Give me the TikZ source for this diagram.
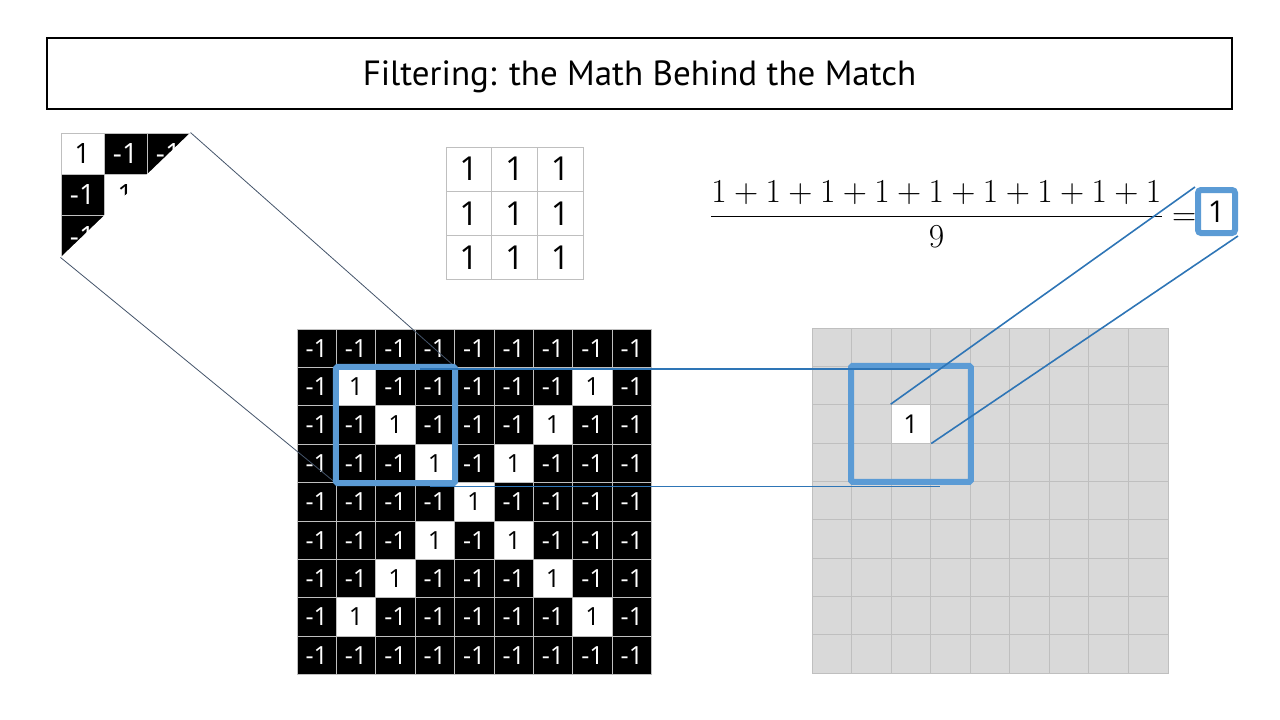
\RequirePackage{fix-cm}
\documentclass[tikz,border=0pt]{standalone}
\usepackage{amsmath}
\usepackage{fontspec}
\setmainfont{Open Sans}
\newfontfamily\titlefont{PT Sans}
\usepackage{tikz}
\usetikzlibrary{positioning, calc}
\definecolor{winblue}{RGB}{91,155,213}
\definecolor{linkblue}{RGB}{46,117,182}
\definecolor{cellgray}{RGB}{191,191,191}
\definecolor{mapgray}{RGB}{217,217,217}
\definecolor{zoomline}{RGB}{68,84,106}
\newcommand\fsz[1]{\fontsize{#1}{#1}\selectfont}

\begin{document}
\begin{tikzpicture}[x=1pt, y=-1pt,
    cell/.style={draw=cellgray, line width=1pt, inner sep=0pt, minimum width=39.4pt, minimum height=38.4pt, font=\fsz{25}},
    onecell/.style={cell, fill=white, text=black},
    minuscell/.style={cell, fill=black, text=white},
    mapcell/.style={cell, fill=mapgray, minimum width=39.56pt, minimum height=38.33pt},
    kerncell/.style={cell, fill=white, minimum width=45.7pt, minimum height=44.3pt, font=\fsz{33}},
    zoomcell/.style={cell, minimum width=43pt, minimum height=41.3pt, font=\fsz{28}},
    window/.style={draw=winblue, line width=6pt, rounded corners=1.5pt},
    link/.style={linkblue, line width=1.6pt}]
    \useasboundingbox (0,0) rectangle (1280,720);

    \node[draw, line width=2.5pt, minimum width=1185pt, minimum height=71pt, text depth=0pt, font=\titlefont\fsz{35}] (title) at (639.5,73.5) {Filtering: the Math Behind the Match};

    % magnified corner of the window, partly hidden
    \foreach \r in {0,1,2}
        \foreach \c in {0,1,2} {
            \ifnum\r=\c
                \node[zoomcell, fill=white] (zm-\r-\c) at (82.5+43*\c, 153.7+41.3*\r) {1};
            \else
                \node[zoomcell, fill=black, text=white] (zm-\r-\c) at (82.5+43*\c, 153.7+41.3*\r) {-1};
            \fi
        }

    % kernel
    \foreach \r in {0,1,2}
        \foreach \c in {0,1,2}
            \node[kerncell] (k-\r-\c) at (468.9+45.7*\c, 169.2+44.3*\r) {1};

    % input image
    \foreach \r in {0,...,8}
        \foreach \c in {0,...,8}
            \coordinate (in-\r-\c) at (316.7+39.4*\c, 348.2+38.4*\r);
    \fill[white] (zm-0-2.north east) -- (zm-2-0.south west) -- ($(in-3-1)+(-19.7,19.2)$) -- ($(in-1-3)+(19.7,-19.2)$) -- cycle;
    \foreach \r in {0,...,8}
        \foreach \c in {0,...,8} {
            \pgfmathtruncatemacro\hit{and(and(\r>0,\r<8),or(\r==\c,\r+\c==8))}
            \ifnum\hit=1
                \node[onecell] (in-\r-\c) at (in-\r-\c) {1};
            \else
                \node[minuscell] (in-\r-\c) at (in-\r-\c) {-1};
            \fi
        }
    \draw[zoomline, line width=0.8pt] (zm-0-2.north east) -- (in-1-3.north east);
    \draw[zoomline, line width=0.8pt] (zm-2-0.south west) -- (in-3-1.south west);

    % filtered map
    \foreach \r in {0,...,8}
        \foreach \c in {0,...,8}
            \node[mapcell] (out-\r-\c) at (831.8+39.56*\c, 347.2+38.33*\r) {};
    \node[mapcell, fill=white, font=\fsz{26}] at (out-2-2) {1};

    \draw[window] (in-1-1.north west) rectangle (in-3-3.south east);
    \draw[window] (out-1-1.north west) rectangle (out-3-3.south east);

    \coordinate (wt) at (420,369);
    \coordinate (wb) at (430,486.5);
    \coordinate (ot) at (930,369);
    \coordinate (ob) at (940,486.5);
    \draw[link] (wt) -- (ot);
    \draw[link] (wb) -- (ob);

    \node[anchor=base west, inner sep=0pt, font=\fsz{33.5}] (sum) at (710,225)
        {$\dfrac{1+1+1+1+1+1+1+1+1}{9}=$};
    \node[draw=winblue, line width=6pt, rounded corners=3pt, fill=white, minimum width=37pt, minimum height=43pt, inner sep=0pt, font=\fsz{30}] (res) at (1216.5,211.5) {1};

    \draw[link] (out-2-2.north west) -- (res.north west);
    \draw[link] (out-2-2.south east) -- (res.south east);
\end{tikzpicture}
\end{document}
